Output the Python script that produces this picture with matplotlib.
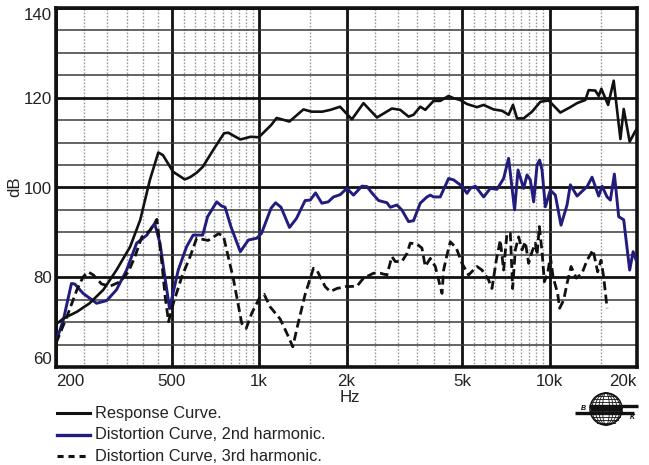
import matplotlib
matplotlib.use("Agg")
import matplotlib.pyplot as plt
import matplotlib.ticker as ticker
from matplotlib.lines import Line2D
from matplotlib.patches import Circle, Ellipse
import numpy as np

plt.rcParams["font.family"] = ["Liberation Sans", "DejaVu Sans"]

# ── data (Hz, dB) ────────────────────────────────────────────────────────────
resp_hz = [200, 212, 236, 261, 291, 323, 360, 390, 421, 450, 467, 506, 555, 579,
           610, 640, 696, 758, 784, 862, 935, 998, 1100, 1150, 1272, 1422, 1515,
           1650, 1760, 1900, 2088, 2288, 2546, 2866, 3062, 3270, 3402, 3588, 3734,
           3988, 4204, 4492, 4674, 4928, 5197, 5626, 5930, 6418, 6860, 7228, 7484,
           7728, 8142, 8704, 9296, 9926, 10892, 11792, 12436, 13280, 13634, 14376,
           14760, 15080, 15906, 16626, 17536, 18000, 18872, 19748, 20000]
resp_db = [69.5, 70.8, 72.3, 74.2, 77.2, 81.6, 86.8, 92.8, 101.7, 107.8, 107.2,
           103.5, 101.8, 102.3, 103.3, 104.6, 108.4, 112.1, 112.2, 110.7, 111.3,
           111.2, 113.9, 115.5, 114.7, 117.4, 116.9, 116.9, 117.3, 118.0, 115.2,
           118.8, 115.6, 117.6, 117.3, 115.8, 116.2, 118.0, 117.3, 119.3, 119.3,
           120.4, 119.9, 119.5, 118.6, 117.9, 118.4, 117.4, 117.1, 116.2, 118.4,
           115.4, 115.4, 116.9, 119.1, 119.4, 116.7, 117.9, 118.8, 119.5, 121.7,
           121.6, 120.4, 122.0, 118.4, 123.8, 110.8, 117.5, 110.2, 112.6, 113.0]

h2_hz = [200, 212, 226, 232, 248, 276, 299, 323, 350, 379, 411, 437, 456, 474, 492,
         527, 563, 593, 610, 640, 665, 715, 742, 764, 800, 862, 919, 982, 1020, 1100,
         1140, 1190, 1273, 1345, 1441, 1500, 1565, 1645, 1730, 1804, 1902, 2006,
         2114, 2260, 2352, 2446, 2578, 2756, 2828, 2982, 3102, 3270, 3402, 3588,
         3784, 3885, 3988, 4204, 4492, 4674, 4996, 5197, 5336, 5553, 5930, 6252,
         6594, 6948, 7228, 7580, 7788, 8142, 8364, 8586, 8816, 9056, 9244, 9422,
         9672, 10062, 10470, 10952, 11486, 11792, 12436, 13462, 14006, 14760,
         15164, 15778, 16196, 16718, 17300, 18000, 18872, 19392, 19858]
h2_db = [65.6, 70.5, 78.6, 78.5, 76.4, 74.2, 74.8, 77.2, 81.6, 87.6, 89.4, 92.0,
         87.6, 80.1, 73.0, 81.6, 86.8, 89.4, 89.4, 89.4, 93.5, 96.8, 95.9, 95.6,
         91.3, 85.7, 88.3, 88.7, 89.8, 95.4, 96.6, 95.6, 91.1, 93.1, 97.1, 97.2,
         98.8, 96.5, 96.8, 97.9, 98.4, 99.8, 98.3, 100.3, 100.2, 98.8, 97.1, 96.6,
         95.6, 96.1, 95.0, 92.4, 92.6, 96.5, 97.9, 98.3, 97.9, 97.9, 102.0, 101.7,
         100.3, 98.7, 99.8, 100.3, 97.9, 99.8, 99.6, 102.0, 106.5, 95.0, 103.9,
         99.8, 102.8, 101.7, 96.8, 105.0, 106.1, 103.9, 95.7, 99.4, 98.3, 91.6,
         96.1, 100.6, 98.1, 100.2, 102.3, 98.1, 100.3, 97.9, 97.2, 103.0, 93.5,
         92.8, 81.6, 85.7, 83.8]

h3_hz = [200, 218, 236, 248, 258, 269, 287, 307, 332, 355, 374, 395, 422, 445, 463,
         475, 488, 507, 542, 579, 610, 668, 725, 754, 816, 872, 903, 944, 1009, 1041,
         1092, 1182, 1247, 1307, 1349, 1441, 1539, 1581, 1689, 1758, 1853, 1979,
         2172, 2289, 2478, 2613, 2756, 2866, 2944, 3102, 3230, 3315, 3496, 3637,
         3734, 3885, 4043, 4150, 4264, 4318, 4436, 4554, 4776, 4996, 5263, 5626,
         5854, 6168, 6336, 6556, 6768, 6948, 7136, 7328, 7462, 7624, 7826, 8040,
         8252, 8472, 8704, 8934, 9056, 9222, 9422, 9596, 9850, 10062, 10280, 10662,
         10834, 11182, 11486, 11860, 12368, 12940, 13462, 14116, 14640, 15040,
         15354, 15778]
h3_db = [65.3, 71.2, 77.2, 80.1, 81.2, 80.5, 78.5, 78.0, 79.0, 81.2, 84.6, 89.0,
         90.5, 92.9, 83.1, 75.7, 70.1, 74.2, 80.1, 84.6, 88.7, 88.2, 89.7, 89.2,
         79.6, 69.7, 68.6, 72.0, 75.7, 76.2, 73.4, 70.7, 67.5, 64.5, 68.5, 76.2,
         82.0, 81.6, 77.9, 76.8, 77.5, 77.9, 78.0, 79.8, 80.9, 80.9, 80.5, 84.6,
         83.5, 83.5, 85.3, 87.6, 87.4, 86.5, 82.4, 84.2, 82.4, 79.4, 76.4, 81.6,
         85.0, 87.9, 86.5, 83.1, 80.5, 82.4, 81.6, 79.4, 77.5, 83.8, 88.3, 81.6,
         89.8, 89.8, 77.5, 86.1, 89.0, 86.1, 87.9, 83.1, 85.7, 87.6, 85.0, 91.3,
         85.7, 79.0, 80.9, 84.6, 80.1, 76.4, 73.1, 74.9, 78.6, 82.4, 79.8, 80.9,
         83.8, 86.1, 81.2, 83.8, 80.1, 73.1]

x_major = [200, 500, 1000, 2000, 5000, 10000, 20000]
x_labels = ["200", "500", "1k", "2k", "5k", "10k", "20k"]
x_minor = ([250, 300, 350, 400, 450] + list(range(550, 1000, 50)) + [1500]
           + list(range(2500, 5000, 500)) + list(range(5500, 10000, 500)) + [15000])
y_major = [60, 80, 100, 120, 140]

legend_labels = ["Response Curve.", "Distortion Curve, 2nd harmonic.",
                 "Distortion Curve, 3rd harmonic."]

BLUE = "#221c7e"
INK = "#111111"
W, H = 649, 465

fig = plt.figure(figsize=(W / 100, H / 100), dpi=100)
ax = fig.add_axes([56 / W, 1 - 367 / H, (637 - 56) / W, (367 - 8) / H])

ax.set_xscale("log")
ax.set_xlim(200, 20000)
ax.set_ylim(60, 140)

ax.xaxis.set_major_locator(ticker.FixedLocator(x_major))
ax.xaxis.set_major_formatter(ticker.FixedFormatter(x_labels))
ax.xaxis.set_minor_locator(ticker.FixedLocator(x_minor))
ax.xaxis.set_minor_formatter(ticker.NullFormatter())
ax.yaxis.set_major_locator(ticker.FixedLocator(y_major))
ax.yaxis.set_minor_locator(ticker.MultipleLocator(5))

ax.grid(which="major", axis="both", color=INK, linewidth=2.0)
ax.grid(which="minor", axis="y", color="#3a3a3a", linewidth=1.1)
ax.grid(which="minor", axis="x", color="#9a9a9a", linewidth=1.0,
        linestyle=(0, (1.2, 1.2)))
ax.set_axisbelow(True)

ax.tick_params(which="both", length=0, labelsize=12.2, colors="#222222")
ax.tick_params(axis="x", pad=5)
ax.tick_params(axis="y", pad=3)
for sp in ax.spines.values():
    sp.set_linewidth(2.6)
    sp.set_color(INK)

xt = ax.get_xticklabels()
xt[0].set_ha("left")
xt[-1].set_ha("right")
yt = ax.get_yticklabels()
yt[0].set_va("bottom")
yt[-1].set_va("top")

ax.plot(h2_hz, h2_db, color=BLUE, linewidth=2.1, zorder=3)
ax.plot(h3_hz, h3_db, color=INK, linewidth=2.0, linestyle=(0, (3.2, 1.6)), zorder=4)
ax.plot(resp_hz, resp_db, color=INK, linewidth=1.9, zorder=5)

pix = lambda x, y: (x / W, 1 - y / H)

# axis titles placed like the reference ("Hz" tucked under the 2k label)
fig.text(*pix(15, 187), "dB", fontsize=12.2, rotation=90, ha="center", va="center",
         color="#222222")
fig.text(*pix(350, 390), "Hz", fontsize=12.2, ha="center", va="top", color="#222222")

# ── legend below the plot, drawn in pixel coordinates ───────────────────────
styles = [dict(color=INK, linewidth=2.2),
          dict(color=BLUE, linewidth=2.4),
          dict(color=INK, linewidth=2.2, linestyle=(0, (2.0, 1.6)))]
for i, (lab, st) in enumerate(zip(legend_labels, styles)):
    yy = 413 + i * 21.5
    (x0, y0), (x1, _) = pix(57, yy), pix(90, yy)
    fig.add_artist(Line2D([x0, x1], [y0, y0], transform=fig.transFigure, **st))
    fig.text(*pix(95, yy), lab, fontsize=11.8, va="center", ha="left", color="#222222")

# ── globe logo, bottom right ────────────────────────────────────────────────
lg = fig.add_axes([572 / W, 1 - 427 / H, 70 / W, 36 / H])
lg.set_xlim(0, 70)
lg.set_ylim(0, 36)
lg.set_aspect("equal")
lg.axis("off")
cx, cy, r = 34, 18, 16
lg.add_patch(Circle((cx, cy), r, fill=False, lw=1.1, color=INK))
for w in (0.22, 0.45, 0.68, 0.88):
    lg.add_patch(Ellipse((cx, cy), 2 * r * w, 2 * r, fill=False, lw=0.6, color=INK))
for dy in np.linspace(-13.5, 13.5, 10):
    half = np.sqrt(max(r * r - dy * dy, 0))
    lg.plot([cx - half, cx + half], [cy + dy, cy + dy], color=INK, lw=0.6)
for dy, x0, x1, lw in ((3.5, 17, 66, 2.4), (1.2, 19, 50, 1.6),
                       (-1.2, 19, 50, 1.6), (-3.5, 3, 62, 2.4)):
    lg.plot([x0, x1], [cy + dy, cy + dy], color=INK, lw=lw, solid_capstyle="butt")
lg.text(9, cy - 2.5, "B", fontsize=5, fontweight="bold", fontstyle="italic", va="bottom")
lg.text(58, cy - 5, "K", fontsize=5, fontweight="bold", fontstyle="italic", va="top")

fig.savefig("out.png", dpi=100)
